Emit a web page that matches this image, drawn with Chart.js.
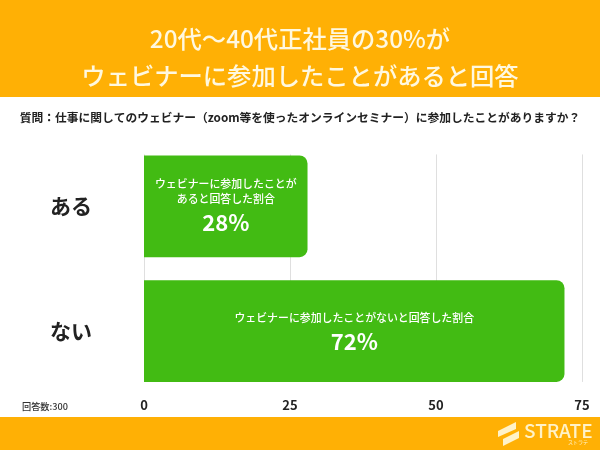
<!DOCTYPE html>
<html>
<head>
<meta charset="utf-8">
<style>
  html, body { margin: 0; padding: 0; background: #fff; }
  canvas { display: block; }
</style>
<script src="https://cdn.jsdelivr.net/npm/chart.js@4"></script>
</head>
<body>
<canvas id="chart" width="600" height="450"></canvas>
<script>
const categories = ['ある', 'ない']
const values = [28, 72]
const barNotes = [
  ['ウェビナーに参加したことが', 'あると回答した割合'],
  ['ウェビナーに参加したことがないと回答した割合']
]
const titleLines = ['20代～40代正社員の30%が', 'ウェビナーに参加したことがあると回答']
const question = '質問：仕事に関してのウェビナー（zoom等を使ったオンラインセミナー）に参加したことがありますか？'
const answerCount = '回答数:300'
const brand = 'STRATE'
const brandSub = 'ストラテ'

const ORANGE = '#ffb005'
const GREEN = '#42bb13'
const FONT = '"Noto Sans CJK JP", "Noto Sans", sans-serif'

// orange bands go behind everything, title is drawn on top of them by the title plugin
const bands = {
  id: 'bands',
  beforeDraw(chart) {
    const c = chart.ctx
    c.save()
    c.fillStyle = ORANGE
    c.fillRect(0, 0, 600, 97)
    c.fillRect(0, 417, 600, 33)
    c.restore()
  }
}

// grid lines in the reference stop at the bars' top and bottom, short of the plot edges
const shortGrid = {
  id: 'shortGrid',
  beforeDatasetsDraw(chart) {
    const c = chart.ctx
    const x = chart.scales.x
    const bars = chart.getDatasetMeta(0).data
    const top = bars[0].y - bars[0].height / 2 - 1
    const bottom = bars[1].y + bars[1].height / 2
    c.save()
    c.strokeStyle = '#dfdfdf'
    c.lineWidth = 1
    x.ticks.forEach(t => {
      const px = Math.round(x.getPixelForValue(t.value)) + 0.5
      c.beginPath()
      c.moveTo(px, top)
      c.lineTo(px, bottom)
      c.stroke()
    })
    c.restore()
  }
}

const extras = {
  id: 'extras',
  afterDatasetsDraw(chart) {
    const c = chart.ctx
    const bars = chart.getDatasetMeta(0).data
    c.save()
    c.textAlign = 'center'
    c.textBaseline = 'middle'
    c.fillStyle = '#fff'
    bars.forEach((bar, i) => {
      const cx = (bar.base + bar.x) / 2
      const notes = barNotes[i]
      const noteTop = notes.length > 1 ? bar.y - 22 : bar.y - 13
      c.font = `500 10.9px ${FONT}`
      notes.forEach((line, j) => c.fillText(line, cx, noteTop + j * 15))
      c.font = `700 22px ${FONT}`
      c.fillText(values[i] + '%', cx, notes.length > 1 ? bar.y + 16 : bar.y + 11)
    })

    c.textAlign = 'left'
    c.fillStyle = '#333'
    c.font = `500 9.2px ${FONT}`
    c.fillText(answerCount, 22, 407)

    // logo
    c.fillStyle = '#fff2c8'
    c.beginPath()
    c.moveTo(516, 422); c.lineTo(498, 431); c.lineTo(498, 437); c.lineTo(516, 429)
    c.closePath(); c.fill()
    c.beginPath()
    c.moveTo(519, 431); c.lineTo(519, 438); c.lineTo(503, 446); c.lineTo(503, 439)
    c.closePath(); c.fill()
    c.font = `500 19px ${FONT}`
    c.fillText(brand, 524, 431)
    c.font = `400 5px ${FONT}`
    c.fillText(brandSub, 568, 442)
    c.restore()
  }
}

new Chart(document.getElementById('chart'), {
  type: 'bar',
  data: {
    labels: categories,
    datasets: [{
      data: values,
      backgroundColor: GREEN,
      borderRadius: { topRight: 8, bottomRight: 8 },
      borderSkipped: false,
      barPercentage: 0.816,
      categoryPercentage: 1
    }]
  },
  plugins: [bands, shortGrid, extras],
  options: {
    indexAxis: 'y',
    responsive: false,
    animation: false,
    // equal side padding keeps the title centred on the page
    layout: { padding: { left: 18, right: 18, top: 0, bottom: 0 } },
    scales: {
      x: {
        min: 0,
        max: 75,
        ticks: { stepSize: 25, color: '#222', maxRotation: 0, padding: -4.5, font: { family: FONT, size: 13, weight: '700' } },
        grid: { display: false },
        border: { display: false },
        afterFit(scale) { scale.height = 49 }
      },
      y: {
        ticks: { color: '#222', padding: 44, font: { family: FONT, size: 21, weight: '700' } },
        grid: { display: false },
        border: { display: false },
        afterFit(scale) { scale.width = 126 }
      }
    },
    plugins: {
      legend: { display: false },
      tooltip: { enabled: false },
      title: {
        display: true,
        text: titleLines,
        color: '#fff8e0',
        font: { family: FONT, size: 24.3, weight: '500', lineHeight: 1.52 },
        padding: { top: 20, bottom: 17 }
      },
      subtitle: {
        display: true,
        text: question,
        color: '#222',
        align: 'center',
        font: { family: FONT, size: 11.75, weight: '700' },
        padding: { top: 0, bottom: 19 }
      }
    }
  }
})
</script>
</body>
</html>
